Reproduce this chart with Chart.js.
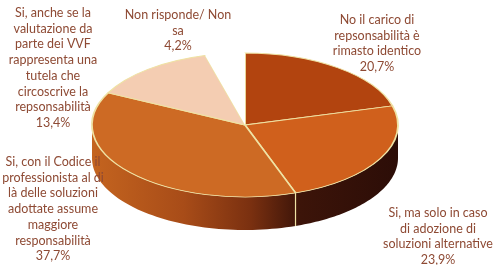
<!DOCTYPE html>
<html>
<head>
<meta charset="utf-8">
<style>
  html, body { margin: 0; padding: 0; background: #fff; }
  canvas { display: block; }
</style>
</head>
<body>
<canvas id="pieChart" width="494" height="265"></canvas>
<script src="https://cdn.jsdelivr.net/npm/chart.js"></script>
<script>
// dati
const categories = [
    ['No il carico di', 'repsonsabilità è', 'rimasto identico'],
    ['Si, ma solo in caso', 'di adozione di', 'soluzioni alternative'],
    ['Si, con il Codice il', 'professionista al di', 'là delle soluzioni', 'adottate assume', 'maggiore', 'responsabilità'],
    ['Si, anche se la', 'valutazione da', 'parte dei VVF', 'rappresenta una', 'tutela che', 'circoscrive la', 'repsonsabilità'],
    ['Non risponde/ Non', 'sa']
];
const values = [20.7, 23.9, 37.7, 13.4, 4.2];
const valueLabels = ['20,7%', '23,9%', '37,7%', '13,4%', '4,2%'];

// stile
const topColors = ['#b2440f', '#d0601c', '#cd6a24', '#f4cdb2', '#ffffff'];
const rimColor = '#efe2a4';
const textColor = '#8e4a34';
const RX = 153, RY = 72, DEPTH = 33;
// centro di ogni etichetta (x, y della prima riga), passo riga
const labelPos = [[377, 20], [438, 213], [53, 162], [53, 13], [178, 15]];
const lineStep = 15.7;

const pie3d = {
    id: 'pie3d',
    beforeDatasetsDraw(chart) {
        const ctx = chart.ctx;
        const arcs = chart.getDatasetMeta(0).data;
        const cx = arcs[0].x, cy = arcs[0].y, r = arcs[0].outerRadius;

        // fianco del cilindro (solo la parte frontale)
        const grad = ctx.createLinearGradient(cx - RX, 0, cx + RX, 0);
        grad.addColorStop(0, '#c4641f');
        grad.addColorStop(0.3, '#a84c18');
        grad.addColorStop(0.52, '#7a3010');
        grad.addColorStop(0.68, '#3c1409');
        grad.addColorStop(1, '#2c0d07');
        arcs.forEach((arc, i) => {
            if (topColors[i] === '#ffffff') return;
            const s = Math.max(arc.startAngle, 0);
            const e = Math.min(arc.endAngle, Math.PI);
            if (e <= s) return;
            ctx.save();
            ctx.beginPath();
            const n = 60;
            for (let k = 0; k <= n; k++) {
                const t = s + (e - s) * k / n;
                const px = cx + RX * Math.cos(t), py = cy + RY * Math.sin(t);
                k === 0 ? ctx.moveTo(px, py) : ctx.lineTo(px, py);
            }
            for (let k = n; k >= 0; k--) {
                const t = s + (e - s) * k / n;
                ctx.lineTo(cx + RX * Math.cos(t), cy + RY * Math.sin(t) + DEPTH);
            }
            ctx.closePath();
            ctx.fillStyle = grad;
            ctx.fill();
            ctx.restore();
        });
        // linee di separazione sul fianco
        arcs.forEach(arc => {
            const t = arc.endAngle;
            if (t > 0 && t < Math.PI) {
                const px = cx + RX * Math.cos(t), py = cy + RY * Math.sin(t);
                ctx.save();
                ctx.strokeStyle = rimColor;
                ctx.lineWidth = 1.2;
                ctx.beginPath();
                ctx.moveTo(px, py);
                ctx.lineTo(px, py + DEPTH);
                ctx.stroke();
                ctx.restore();
            }
        });

        // schiaccia la torta in un'ellisse
        ctx.save();
        ctx.translate(cx, cy);
        ctx.scale(RX / r, RY / r);
        ctx.translate(-cx, -cy);
    },
    afterDatasetsDraw(chart) {
        chart.ctx.restore();
    },
    afterDraw(chart) {
        const ctx = chart.ctx;
        ctx.save();
        ctx.fillStyle = textColor;
        ctx.font = '12.5px Lato, "Open Sans", sans-serif';
        ctx.textAlign = 'center';
        ctx.textBaseline = 'middle';
        categories.forEach((lines, i) => {
            const [x, y] = labelPos[i];
            lines.concat([valueLabels[i]]).forEach((line, j) => {
                ctx.fillText(line, x, y + j * lineStep);
            });
        });
        ctx.restore();
    }
};

new Chart(document.getElementById('pieChart'), {
    type: 'pie',
    data: {
        labels: categories.map(c => c.join(' ')),
        datasets: [{
            data: values,
            backgroundColor: topColors,
            borderColor: [rimColor, rimColor, rimColor, rimColor, 'rgba(255,255,255,0)'],
            borderWidth: 1.2,
            clip: false
        }]
    },
    options: {
        responsive: false,
        animation: false,
        layout: { padding: { left: 145, right: 149, top: 25, bottom: 40 } },
        plugins: {
            legend: { display: false },
            tooltip: { enabled: false }
        }
    },
    plugins: [pie3d]
});
</script>
</body>
</html>
